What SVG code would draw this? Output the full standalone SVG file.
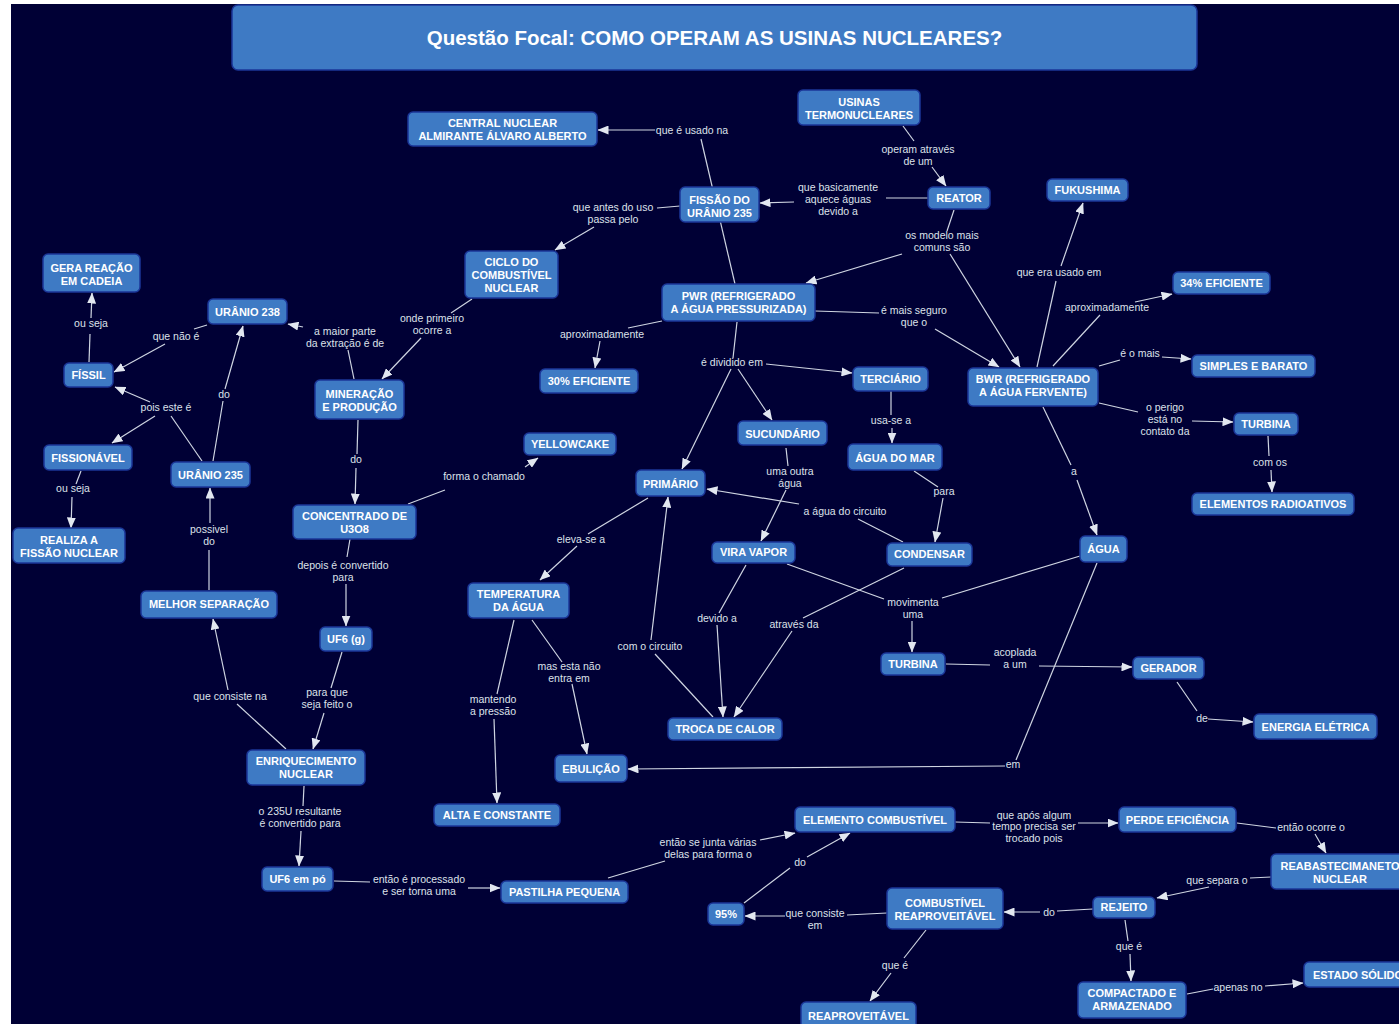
<svg xmlns="http://www.w3.org/2000/svg" width="1399" height="1024" viewBox="0 0 1399 1024">
<style>
.n rect{fill:#3e7ac4;stroke:#1b3698;stroke-width:1.5}
.n text{font-family:"Liberation Sans",Arial,sans-serif;font-weight:bold;font-size:11px;fill:#ffffff;text-anchor:middle}
.t text{font-family:"Liberation Sans",Arial,sans-serif;font-size:10.5px;fill:#dde2ea;text-anchor:middle}
#connectors line{stroke:#cfd5e2;stroke-width:1.2}
#connectors .a{marker-end:url(#ah)}
</style>
<defs>
<marker id="ah" markerWidth="11" markerHeight="9" refX="10.5" refY="4.5" orient="auto" markerUnits="userSpaceOnUse"><path d="M0,0 L11,4.5 L0,9 z" fill="#e2e7f0"/></marker>
</defs>
<rect x="0" y="0" width="1399" height="1024" fill="#ffffff"/>
<rect x="11" y="4" width="1388" height="1020" fill="#000035"/>

<g id="connectors">
<line x1="903" y1="126" x2="914" y2="141"/><line class="a" x1="932" y1="167" x2="946" y2="186"/>
<line x1="928" y1="198" x2="886" y2="198"/><line class="a" x1="794" y1="202" x2="760" y2="203"/>
<line x1="735" y1="284" x2="701" y2="139"/><line class="a" x1="655" y1="130" x2="598" y2="130"/>
<line x1="680" y1="206" x2="657" y2="208"/><line class="a" x1="594" y1="227" x2="555" y2="250"/>
<line x1="954" y1="210" x2="947" y2="231"/><line class="a" x1="902" y1="254" x2="806" y2="283"/><line class="a" x1="950" y1="254" x2="1020" y2="367"/>
<line x1="815" y1="311" x2="879" y2="313"/><line class="a" x1="935" y1="329" x2="999" y2="367"/>
<line x1="1037" y1="367" x2="1056" y2="281"/><line class="a" x1="1061" y1="266" x2="1083" y2="203"/>
<line x1="1053" y1="366" x2="1100" y2="315"/><line class="a" x1="1135" y1="302" x2="1172" y2="294"/>
<line x1="1099" y1="366" x2="1120" y2="360"/><line class="a" x1="1162" y1="357" x2="1191" y2="359"/>
<line x1="1099" y1="403" x2="1138" y2="412"/><line class="a" x1="1192" y1="421" x2="1233" y2="422"/>
<line x1="1268" y1="436" x2="1269" y2="456"/><line class="a" x1="1271" y1="470" x2="1272" y2="492"/>
<line x1="1043" y1="407" x2="1071" y2="465"/><line class="a" x1="1077" y1="480" x2="1097" y2="535"/>
<line x1="1097" y1="563" x2="1016" y2="760"/><line class="a" x1="1005" y1="766" x2="628" y2="769"/>
<line x1="787" y1="564" x2="884" y2="599"/><line x1="1080" y1="556" x2="942" y2="598"/><line class="a" x1="912" y1="621" x2="912" y2="652"/>
<line x1="946" y1="664" x2="990" y2="665"/><line class="a" x1="1039" y1="666" x2="1132" y2="667"/>
<line x1="1177" y1="682" x2="1197" y2="711"/><line class="a" x1="1208" y1="719" x2="1253" y2="722"/>
<line x1="662" y1="321" x2="628" y2="328"/><line class="a" x1="600" y1="341" x2="595" y2="368"/>
<line x1="737" y1="322" x2="733" y2="358"/><line class="a" x1="766" y1="364" x2="852" y2="373"/><line class="a" x1="731" y1="369" x2="682" y2="469"/><line class="a" x1="738" y1="369" x2="772" y2="420"/>
<line x1="891" y1="391" x2="891" y2="415"/><line class="a" x1="892" y1="428" x2="892" y2="443"/>
<line x1="914" y1="471" x2="938" y2="487"/><line class="a" x1="943" y1="498" x2="935" y2="542"/>
<line x1="786" y1="448" x2="788" y2="466"/><line class="a" x1="786" y1="490" x2="761" y2="541"/>
<line x1="903" y1="542" x2="858" y2="519"/><line class="a" x1="799" y1="504" x2="707" y2="489"/>
<line x1="746" y1="565" x2="719" y2="613"/><line class="a" x1="717" y1="625" x2="723" y2="717"/>
<line x1="904" y1="568" x2="803" y2="618"/><line class="a" x1="792" y1="631" x2="734" y2="717"/>
<line x1="713" y1="717" x2="655" y2="654"/><line class="a" x1="651" y1="640" x2="668" y2="497"/>
<line x1="648" y1="498" x2="588" y2="534"/><line class="a" x1="577" y1="546" x2="540" y2="580"/>
<line x1="514" y1="620" x2="497" y2="694"/><line class="a" x1="494" y1="719" x2="497" y2="803"/>
<line x1="532" y1="620" x2="562" y2="662"/><line class="a" x1="572" y1="684" x2="587" y2="754"/>
<line x1="213" y1="461" x2="223" y2="401"/><line class="a" x1="225" y1="389" x2="243" y2="326"/>
<line x1="202" y1="461" x2="171" y2="416"/><line class="a" x1="150" y1="402" x2="115" y2="387"/><line class="a" x1="155" y1="416" x2="112" y2="443"/>
<line x1="207" y1="325" x2="194" y2="329"/><line class="a" x1="165" y1="344" x2="114" y2="372"/>
<line x1="89" y1="362" x2="90" y2="334"/><line class="a" x1="91" y1="318" x2="92" y2="293"/>
<line x1="81" y1="471" x2="76" y2="484"/><line class="a" x1="72" y1="497" x2="71" y2="528"/>
<line x1="354" y1="379" x2="348" y2="350"/><line class="a" x1="303" y1="327" x2="288" y2="324"/>
<line x1="472" y1="299" x2="451" y2="313"/><line class="a" x1="421" y1="338" x2="382" y2="379"/>
<line x1="358" y1="420" x2="357" y2="454"/><line class="a" x1="356" y1="468" x2="355" y2="504"/>
<line x1="408" y1="504" x2="445" y2="490"/><line class="a" x1="525" y1="467" x2="538" y2="458"/>
<line x1="350" y1="539" x2="347" y2="557"/><line class="a" x1="346" y1="584" x2="346" y2="626"/>
<line x1="342" y1="652" x2="331" y2="688"/><line class="a" x1="324" y1="713" x2="313" y2="749"/>
<line x1="286" y1="749" x2="237" y2="704"/><line class="a" x1="228" y1="690" x2="213" y2="619"/>
<line x1="209" y1="590" x2="209" y2="550"/><line class="a" x1="210" y1="523" x2="210" y2="488"/>
<line x1="304" y1="786" x2="303" y2="806"/><line class="a" x1="301" y1="831" x2="299" y2="866"/>
<line x1="334" y1="881" x2="370" y2="882"/><line class="a" x1="468" y1="888" x2="500" y2="888"/>
<line x1="608" y1="878" x2="665" y2="861"/><line class="a" x1="760" y1="840" x2="795" y2="833"/>
<line x1="744" y1="903" x2="790" y2="868"/><line class="a" x1="807" y1="857" x2="850" y2="833"/>
<line x1="955" y1="822" x2="990" y2="823"/><line class="a" x1="1078" y1="823" x2="1118" y2="823"/>
<line x1="1237" y1="823" x2="1276" y2="828"/><line class="a" x1="1315" y1="834" x2="1326" y2="853"/>
<line x1="1271" y1="877" x2="1250" y2="878"/><line class="a" x1="1209" y1="887" x2="1157" y2="898"/>
<line x1="1093" y1="909" x2="1057" y2="911"/><line class="a" x1="1040" y1="912" x2="1004" y2="912"/>
<line x1="887" y1="913" x2="847" y2="915"/><line class="a" x1="785" y1="916" x2="745" y2="916"/>
<line x1="926" y1="930" x2="904" y2="958"/><line class="a" x1="891" y1="973" x2="870" y2="1001"/>
<line x1="1125" y1="920" x2="1128" y2="941"/><line class="a" x1="1130" y1="954" x2="1131" y2="981"/>
<line x1="1187" y1="994" x2="1213" y2="989"/><line class="a" x1="1265" y1="986" x2="1303" y2="983"/>
</g>

<g id="labels" class="t">
<text x="918" y="153">operam através<tspan x="918" y="165">de um</tspan></text>
<text x="838" y="191">que  basicamente<tspan x="838" y="203">aquece águas</tspan><tspan x="838" y="215">devido a</tspan></text>
<text x="692" y="134">que é usado na</text>
<text x="613" y="211">que antes do uso<tspan x="613" y="223">passa pelo</tspan></text>
<text x="942" y="239">os modelo mais<tspan x="942" y="251">comuns são</tspan></text>
<text x="914" y="314">é mais seguro<tspan x="914" y="326">que o</tspan></text>
<text x="1059" y="276">que era usado em</text>
<text x="1107" y="311">aproximadamente</text>
<text x="1140" y="357">é o mais</text>
<text x="1165" y="411">o perigo<tspan x="1165" y="423">está no</tspan><tspan x="1165" y="435">contato da</tspan></text>
<text x="1270" y="466">com os</text>
<text x="1074" y="475">a</text>
<text x="1013" y="768">em</text>
<text x="913" y="606">movimenta<tspan x="913" y="618">uma</tspan></text>
<text x="1015" y="656">acoplada<tspan x="1015" y="668">a um</tspan></text>
<text x="1202" y="722">de</text>
<text x="602" y="338">aproximadamente</text>
<text x="732" y="366">é dividido em</text>
<text x="891" y="424">usa-se a</text>
<text x="944" y="495">para</text>
<text x="790" y="475">uma outra<tspan x="790" y="487">água</tspan></text>
<text x="845" y="515">a água do circuito</text>
<text x="717" y="622">devido a</text>
<text x="794" y="628">através da</text>
<text x="650" y="650">com o circuito</text>
<text x="581" y="543">eleva-se a</text>
<text x="493" y="703">mantendo<tspan x="493" y="715">a pressão</tspan></text>
<text x="569" y="670">mas esta não<tspan x="569" y="682">entra em</tspan></text>
<text x="224" y="398">do</text>
<text x="166" y="411">pois este é</text>
<text x="176" y="340">que não é</text>
<text x="91" y="327">ou seja</text>
<text x="73" y="492">ou seja</text>
<text x="345" y="335">a maior parte<tspan x="345" y="347">da extração é de</tspan></text>
<text x="432" y="322">onde primeiro<tspan x="432" y="334">ocorre a</tspan></text>
<text x="356" y="463">do</text>
<text x="484" y="480">forma o chamado</text>
<text x="343" y="569">depois é convertido<tspan x="343" y="581">para</tspan></text>
<text x="327" y="696">para que<tspan x="327" y="708">seja feito o</tspan></text>
<text x="230" y="700">que consiste na</text>
<text x="209" y="533">possivel<tspan x="209" y="545">do</tspan></text>
<text x="300" y="815">o 235U resultante<tspan x="300" y="827">é  convertido para</tspan></text>
<text x="419" y="883">então é processado<tspan x="419" y="895">e ser torna uma</tspan></text>
<text x="708" y="846">então se junta várias<tspan x="708" y="858">delas para forma o</tspan></text>
<text x="800" y="866">do</text>
<text x="1034" y="819">que após algum<tspan x="1034" y="830">tempo precisa ser</tspan><tspan x="1034" y="842">trocado pois</tspan></text>
<text x="1311" y="831">então ocorre o</text>
<text x="1217" y="884">que separa o</text>
<text x="1049" y="916">do</text>
<text x="815" y="917">que consiste<tspan x="815" y="929">em</tspan></text>
<text x="895" y="969">que é</text>
<text x="1129" y="950">que é</text>
<text x="1238" y="991">apenas no</text>
</g>

<g id="title" class="n"><rect x="232" y="5" width="965" height="65" rx="6"/><text x="714.5" y="45" style="font-size:20.5px">Questão Focal: COMO OPERAM AS USINAS NUCLEARES?</text></g>
<g id="n_usinas" class="n"><rect x="798" y="90" width="122" height="35" rx="5"/><text x="859" y="106">USINAS<tspan x="859" y="119">TERMONUCLEARES</tspan></text></g>
<g id="n_central" class="n"><rect x="408" y="112" width="189" height="34" rx="5"/><text x="502.5" y="127">CENTRAL NUCLEAR<tspan x="502.5" y="140">ALMIRANTE ÁLVARO ALBERTO</tspan></text></g>
<g id="n_reator" class="n"><rect x="928" y="187" width="62" height="22" rx="5"/><text x="959" y="202">REATOR</text></g>
<g id="n_fukushima" class="n"><rect x="1047" y="179" width="81" height="22" rx="5"/><text x="1087.5" y="194">FUKUSHIMA</text></g>
<g id="n_fissao" class="n"><rect x="680" y="187" width="79" height="35" rx="5"/><text x="719.5" y="204">FISSÃO DO<tspan x="719.5" y="217">URÂNIO 235</tspan></text></g>
<g id="n_ciclo" class="n"><rect x="465" y="251" width="93" height="47" rx="5"/><text x="511.5" y="266">CICLO DO<tspan x="511.5" y="279">COMBUSTÍVEL</tspan><tspan x="511.5" y="292">NUCLEAR</tspan></text></g>
<g id="n_pwr" class="n"><rect x="662" y="284" width="153" height="37" rx="5"/><text x="738.5" y="300">PWR (REFRIGERADO<tspan x="738.5" y="313">A ÁGUA PRESSURIZADA)</tspan></text></g>
<g id="n_gera" class="n"><rect x="43" y="254" width="97" height="38" rx="5"/><text x="91.5" y="272">GERA REAÇÃO<tspan x="91.5" y="285">EM CADEIA</tspan></text></g>
<g id="n_u238" class="n"><rect x="208" y="299" width="79" height="25" rx="5"/><text x="247.5" y="316">URÂNIO 238</text></g>
<g id="n_fissil" class="n"><rect x="64" y="363" width="49" height="24" rx="5"/><text x="88.5" y="379">FÍSSIL</text></g>
<g id="n_mineracao" class="n"><rect x="315" y="380" width="89" height="39" rx="5"/><text x="359.5" y="398">MINERAÇÃO<tspan x="359.5" y="411">E PRODUÇÃO</tspan></text></g>
<g id="n_fissionavel" class="n"><rect x="44" y="445" width="88" height="25" rx="5"/><text x="88" y="462">FISSIONÁVEL</text></g>
<g id="n_u235" class="n"><rect x="171" y="462" width="79" height="25" rx="5"/><text x="210.5" y="479">URÂNIO 235</text></g>
<g id="n_concentrado" class="n"><rect x="293" y="505" width="123" height="34" rx="5"/><text x="354.5" y="520">CONCENTRADO DE<tspan x="354.5" y="533">U3O8</tspan></text></g>
<g id="n_realiza" class="n"><rect x="13" y="528" width="112" height="35" rx="5"/><text x="69" y="544">REALIZA A<tspan x="69" y="557">FISSÃO NUCLEAR</tspan></text></g>
<g id="n_yellowcake" class="n"><rect x="524" y="433" width="92" height="22" rx="5"/><text x="570" y="448">YELLOWCAKE</text></g>
<g id="n_30" class="n"><rect x="540" y="369" width="98" height="24" rx="5"/><text x="589" y="385">30% EFICIENTE</text></g>
<g id="n_terciario" class="n"><rect x="853" y="367" width="75" height="24" rx="5"/><text x="890.5" y="383">TERCIÁRIO</text></g>
<g id="n_bwr" class="n"><rect x="968" y="368" width="130" height="38" rx="5"/><text x="1033" y="383">BWR (REFRIGERADO<tspan x="1033" y="396">A ÁGUA FERVENTE)</tspan></text></g>
<g id="n_34" class="n"><rect x="1173" y="272" width="97" height="22" rx="5"/><text x="1221.5" y="287">34% EFICIENTE</text></g>
<g id="n_simples" class="n"><rect x="1192" y="355" width="123" height="22" rx="5"/><text x="1253.5" y="370">SIMPLES E BARATO</text></g>
<g id="n_turbina2" class="n"><rect x="1234" y="413" width="64" height="22" rx="5"/><text x="1266" y="428">TURBINA</text></g>
<g id="n_elementos" class="n"><rect x="1192" y="493" width="162" height="22" rx="5"/><text x="1273" y="508">ELEMENTOS RADIOATIVOS</text></g>
<g id="n_sucundario" class="n"><rect x="738" y="421" width="89" height="24" rx="5"/><text x="782.5" y="438">SUCUNDÁRIO</text></g>
<g id="n_aguamar" class="n"><rect x="848" y="444" width="94" height="26" rx="5"/><text x="895" y="462">ÁGUA DO MAR</text></g>
<g id="n_primario" class="n"><rect x="636" y="470" width="69" height="26" rx="5"/><text x="670.5" y="488">PRIMÁRIO</text></g>
<g id="n_viravapor" class="n"><rect x="712" y="542" width="83" height="21" rx="5"/><text x="753.5" y="556">VIRA VAPOR</text></g>
<g id="n_condensar" class="n"><rect x="887" y="543" width="85" height="23" rx="5"/><text x="929.5" y="558">CONDENSAR</text></g>
<g id="n_turbina1" class="n"><rect x="881" y="653" width="64" height="22" rx="5"/><text x="913" y="668">TURBINA</text></g>
<g id="n_troca" class="n"><rect x="668" y="718" width="114" height="22" rx="5"/><text x="725" y="733">TROCA DE CALOR</text></g>
<g id="n_agua" class="n"><rect x="1080" y="536" width="47" height="26" rx="5"/><text x="1103.5" y="553">ÁGUA</text></g>
<g id="n_gerador" class="n"><rect x="1133" y="657" width="71" height="22" rx="5"/><text x="1168.5" y="672">GERADOR</text></g>
<g id="n_energia" class="n"><rect x="1254" y="714" width="123" height="25" rx="5"/><text x="1315.5" y="731">ENERGIA ELÉTRICA</text></g>
<g id="n_temp" class="n"><rect x="468" y="583" width="101" height="35" rx="5"/><text x="518.5" y="598">TEMPERATURA<tspan x="518.5" y="611">DA ÁGUA</tspan></text></g>
<g id="n_melhor" class="n"><rect x="141" y="591" width="136" height="27" rx="5"/><text x="209" y="608">MELHOR SEPARAÇÃO</text></g>
<g id="n_uf6g" class="n"><rect x="320" y="627" width="52" height="24" rx="5"/><text x="346" y="643">UF6 (g)</text></g>
<g id="n_enriq" class="n"><rect x="247" y="750" width="118" height="35" rx="5"/><text x="306" y="765">ENRIQUECIMENTO<tspan x="306" y="778">NUCLEAR</tspan></text></g>
<g id="n_ebulicao" class="n"><rect x="555" y="755" width="72" height="27" rx="5"/><text x="591" y="773">EBULIÇÃO</text></g>
<g id="n_alta" class="n"><rect x="434" y="804" width="126" height="22" rx="5"/><text x="497" y="819">ALTA E CONSTANTE</text></g>
<g id="n_uf6po" class="n"><rect x="262" y="867" width="71" height="24" rx="5"/><text x="297.5" y="883">UF6 em pó</text></g>
<g id="n_pastilha" class="n"><rect x="501" y="881" width="127" height="22" rx="5"/><text x="564.5" y="896">PASTILHA PEQUENA</text></g>
<g id="n_elemento" class="n"><rect x="795" y="807" width="160" height="25" rx="5"/><text x="875" y="824">ELEMENTO COMBUSTÍVEL</text></g>
<g id="n_perde" class="n"><rect x="1119" y="807" width="117" height="25" rx="5"/><text x="1177.5" y="824">PERDE EFICIÊNCIA</text></g>
<g id="n_reabast" class="n"><rect x="1271" y="854" width="140" height="35" rx="5"/><text x="1340" y="870">REABASTECIMANETO<tspan x="1340" y="883">NUCLEAR</tspan></text></g>
<g id="n_95" class="n"><rect x="708" y="903" width="36" height="22" rx="5"/><text x="726" y="918">95%</text></g>
<g id="n_combreap" class="n"><rect x="887" y="888" width="116" height="41" rx="5"/><text x="945" y="907">COMBUSTÍVEL<tspan x="945" y="920">REAPROVEITÁVEL</tspan></text></g>
<g id="n_rejeito" class="n"><rect x="1093" y="897" width="62" height="21" rx="5"/><text x="1124" y="911">REJEITO</text></g>
<g id="n_reap" class="n"><rect x="801" y="1002" width="115" height="30" rx="5"/><text x="858.5" y="1020">REAPROVEITÁVEL</text></g>
<g id="n_compact" class="n"><rect x="1078" y="982" width="108" height="36" rx="5"/><text x="1132" y="997">COMPACTADO E<tspan x="1132" y="1010">ARMAZENADO</tspan></text></g>
<g id="n_estado" class="n"><rect x="1304" y="962" width="120" height="25" rx="5"/><text x="1358" y="979">ESTADO SÓLIDO</text></g>
</svg>
